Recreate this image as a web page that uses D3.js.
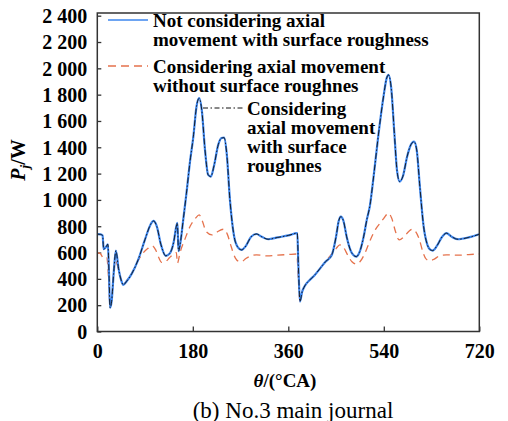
<!DOCTYPE html>
<html>
<head>
<meta charset="utf-8">
<script src="https://cdn.jsdelivr.net/npm/d3@7"></script>
<style>
  html, body { margin: 0; padding: 0; background: #fff; }
  svg { display: block; }
  text { font-family: "Liberation Serif", "Times New Roman", serif; }
</style>
</head>
<body>
<svg id="chart" width="508" height="421"></svg>
<script>
// ---- Data ----
const xTicks = [0, 180, 360, 540, 720];
const yTicks = [0, 200, 400, 600, 800, 1000, 1200, 1400, 1600, 1800, 2000, 2200, 2400];
const yTickLabels = ["0", "200", "400", "600", "800", "1 000", "1 200", "1 400", "1 600", "1 800", "2 000", "2 200", "2 400"];

const seriesNames = [
  ["Not considering axial", "movement with surface roughness"],
  ["Considering axial movement", "without surface roughnes"],
  ["Considering", "axial movement", "with surface", "roughnes"]
];

// Not considering axial movement, with surface roughness (blue solid)
const blueTheta = [0,6,10,12,16,20,22,24,27,31,35,40,45,49,55,65,77,90,100,106,112,120,129,136,144,149,151,153,156,162,168,175,181,187,192,197,203,209,214,220,228,234,239,244,250,258,265,272,280,290,300,310,322,340,360,377,379,382,386,391,400,410,420,430,442,450,455,459,464,470,478,483,488,494,502,508,514,520,530,540,545,549,554,560,565,570,576,584,590,597,602,608,615,622,628,632,640,650,658,668,680,700,720];
const blueP     = [740,738,730,625,640,663,450,180,230,450,615,480,390,354,380,440,545,700,810,840,800,660,575,590,680,800,825,610,660,850,1050,1300,1480,1710,1773,1680,1380,1190,1177,1260,1420,1470,1474,1350,1000,720,640,620,650,720,741,720,701,715,730,747,500,227,300,346,390,430,480,530,582,720,840,873,840,720,610,580,569,600,720,850,960,1150,1500,1800,1920,1951,1850,1500,1220,1139,1180,1330,1410,1443,1380,1100,800,660,620,615,650,720,747,720,701,715,739];

// Considering axial movement, without surface roughness (orange dashed)
const orangeTheta = [0,6,12,18,21,24,27,31,34,40,45,50,55,65,77,85,95,104,110,116,121,128,136,144,149,151,156,165,175,185,192,198,205,216,225,238,245,252,260,266,272,280,290,300,320,340,360,376,379,382,386,391,400,410,420,430,440,450,457,464,472,480,488,495,505,515,525,533,540,549,555,562,569,578,587,594,600,607,614,620,627,635,645,658,680,700,720];
const orangeP     = [600,590,555,560,420,200,240,450,545,470,395,365,385,440,540,590,630,650,620,560,526,530,560,590,600,520,600,700,800,860,886,840,760,734,755,777,740,650,560,535,531,555,575,582,575,580,585,589,400,227,300,346,390,430,480,530,580,630,658,640,580,530,513,530,600,700,780,823,860,899,860,760,696,720,760,777,760,700,600,550,538,550,575,582,580,585,589];

// Considering axial movement, with surface roughness (black dash-dot)
const blackTheta = blueTheta.slice();
const blackP     = [740,738,730,625,640,663,450,180,230,450,615,480,390,354,380,440,545,700,810,840,800,660,575,590,680,800,825,610,660,850,1050,1300,1480,1710,1772,1680,1380,1190,1177,1260,1420,1470,1473,1350,1000,720,640,620,650,720,741,720,701,715,730,747,500,227,300,346,390,430,480,530,582,720,840,873,840,720,610,580,569,600,720,850,960,1150,1500,1800,1920,1950,1850,1500,1220,1139,1180,1330,1410,1442,1380,1100,800,660,620,615,650,720,747,720,701,715,739];

// ---- Drawing ----
const svg = d3.select("#chart");
const mLeft = 97.3, mRight = 479.3, mTop = 13, mBottom = 331.5;

const x = d3.scaleLinear().domain([0, 720]).range([mLeft, mRight]);
const y = d3.scaleLinear().domain([0, 2400]).range([mBottom, 15.7]);

const frameColor = "#333";

// ticks (inward)
const gx = svg.append("g").attr("transform", `translate(0,${mBottom})`)
  .call(d3.axisBottom(x).tickValues(xTicks).tickSizeInner(-5).tickSizeOuter(0).tickPadding(8).tickFormat(d => d));
gx.select(".domain").remove();
gx.selectAll("line").attr("stroke", frameColor).attr("stroke-width", 1.3);
gx.selectAll("text").attr("font-size", "20px").attr("font-weight", "bold").attr("fill", "#000")
  .attr("y", 12.5).attr("dy", "0.71em");

const gy = svg.append("g").attr("transform", `translate(${mLeft},0)`)
  .call(d3.axisLeft(y).tickValues(yTicks).tickSizeInner(-4).tickSizeOuter(0).tickPadding(10)
    .tickFormat((d, i) => yTickLabels[i]));
gy.select(".domain").remove();
gy.selectAll("line").attr("stroke", frameColor).attr("stroke-width", 1.3);
gy.selectAll("text").attr("font-size", "20px").attr("font-weight", "bold").attr("fill", "#000")
  .attr("x", -10).attr("dy", "0.34em");

// lines
const line = d3.line().x(d => x(d[0])).y(d => y(d[1])).curve(d3.curveMonotoneX);
const zip = (a, b) => a.map((t, i) => [t, b[i]]);

const plot = svg.append("g");
plot.append("path").datum(zip(orangeTheta, orangeP)).attr("d", line)
  .attr("fill", "none").attr("stroke", "#e5724c").attr("stroke-width", 1.3).attr("stroke-dasharray", "7,5");
plot.append("path").datum(zip(blueTheta, blueP)).attr("d", line)
  .attr("fill", "none").attr("stroke", "#3d86ee").attr("stroke-width", 2.2);
plot.append("path").datum(zip(blackTheta, blackP)).attr("d", line)
  .attr("fill", "none").attr("stroke", "#111").attr("stroke-width", 0.9).attr("stroke-dasharray", "6,2,1.5,2");

// frame
svg.append("rect").attr("x", mLeft).attr("y", mTop).attr("width", mRight - mLeft).attr("height", mBottom - mTop)
  .attr("fill", "none").attr("stroke", frameColor).attr("stroke-width", 1.5);

// legend
const lg = svg.append("g").attr("font-size", "19px").attr("font-weight", "bold").attr("fill", "#000");
function legendText(x0, baseline, lines) {
  const t = lg.append("text").attr("x", x0).attr("y", baseline);
  lines.forEach((s, i) => t.append("tspan").attr("x", x0).attr("y", baseline + i * 19).text(s));
}
lg.append("line").attr("x1", 108).attr("x2", 148).attr("y1", 20).attr("y2", 20)
  .attr("stroke", "#3d86ee").attr("stroke-width", 1.5);
legendText(153, 26.5, seriesNames[0]);
lg.append("line").attr("x1", 108).attr("x2", 148).attr("y1", 66).attr("y2", 66)
  .attr("stroke", "#e5724c").attr("stroke-width", 1.5).attr("stroke-dasharray", "8,5");
legendText(153, 72.5, seriesNames[1]);
lg.append("line").attr("x1", 203).attr("x2", 243).attr("y1", 108).attr("y2", 108)
  .attr("stroke", "#111").attr("stroke-width", 1).attr("stroke-dasharray", "5,2.5,1.5,2.5");
legendText(247, 114.5, seriesNames[2]);

// axis titles
const yl = svg.append("text").attr("transform", "translate(25,160) rotate(-90)")
  .attr("text-anchor", "middle").attr("font-size", "20px").attr("font-weight", "bold");
yl.append("tspan").attr("font-style", "italic").text("P");
yl.append("tspan").attr("font-style", "italic").attr("font-size", "13px").attr("dy", "4").text("j");
yl.append("tspan").attr("dy", "-4").text("/W");

const xl = svg.append("text").attr("x", 285).attr("y", 386.5)
  .attr("text-anchor", "middle").attr("font-size", "19px").attr("font-weight", "bold");
xl.append("tspan").attr("font-style", "italic").text("θ");
xl.append("tspan").text("/(°CA)");

svg.append("text").attr("x", 293).attr("y", 417.5).attr("text-anchor", "middle")
  .attr("font-size", "23px").text("(b) No.3 main journal");
</script>
</body>
</html>
